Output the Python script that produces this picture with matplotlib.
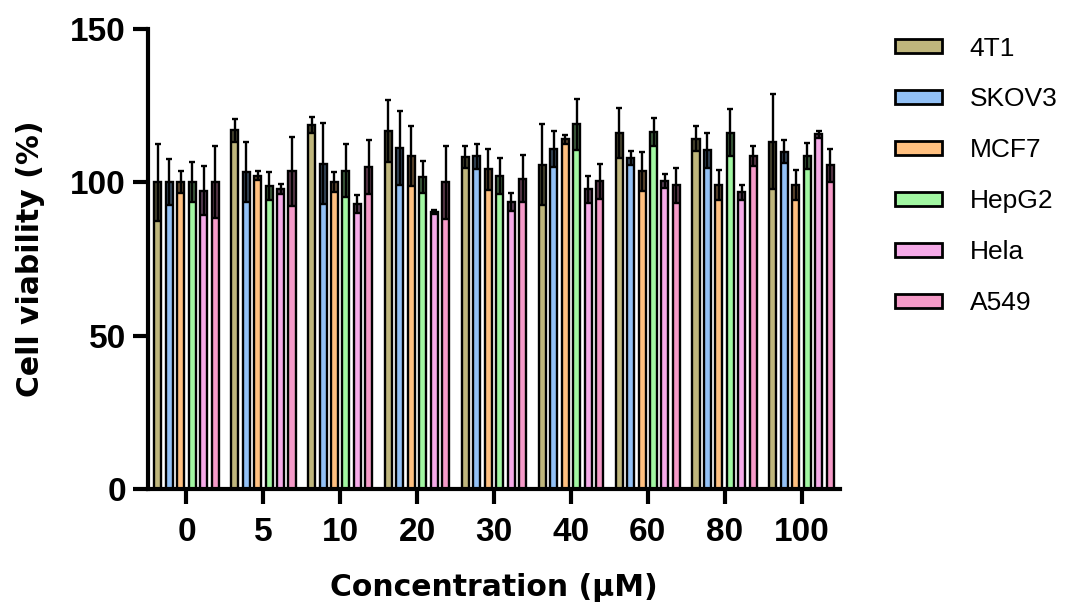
import numpy as np
import matplotlib
matplotlib.use("Agg")
import matplotlib.pyplot as plt

concentrations = ["0", "5", "10", "20", "30", "40", "60", "80", "100"]
cell_lines = ["4T1", "SKOV3", "MCF7", "HepG2", "Hela", "A549"]

mean_4T1 = [100.0, 117.0, 118.6, 116.7, 108.2, 105.8, 116.2, 114.2, 113.2]
err_4T1 = [12.5, 3.8, 2.6, 10.0, 3.6, 13.1, 8.2, 4.1, 15.5]
mean_SKOV3 = [100.0, 103.3, 106.0, 111.1, 108.5, 110.8, 107.9, 110.5, 110.0]
err_SKOV3 = [7.5, 9.8, 13.2, 12.1, 4.0, 5.8, 2.3, 5.7, 3.8]
mean_MCF7 = [100.0, 102.2, 100.1, 108.6, 104.2, 114.0, 103.6, 99.2, 99.2]
err_MCF7 = [3.6, 1.5, 3.2, 9.7, 6.6, 1.4, 6.3, 4.9, 4.8]
mean_HepG2 = [100.0, 98.8, 103.8, 101.8, 102.0, 118.9, 116.5, 116.2, 108.5]
err_HepG2 = [6.5, 4.5, 8.7, 5.3, 5.9, 8.2, 4.6, 7.6, 4.3]
mean_Hela = [97.3, 97.8, 93.0, 90.3, 93.6, 97.8, 100.5, 96.7, 115.7]
err_Hela = [8.0, 1.5, 2.9, 0.7, 2.8, 4.4, 2.3, 2.3, 1.2]
mean_A549 = [100.0, 103.6, 105.0, 100.0, 101.2, 100.3, 99.0, 108.6, 105.5]
err_A549 = [11.7, 11.2, 8.9, 11.9, 7.6, 5.7, 5.6, 3.2, 5.3]

means = [mean_4T1, mean_SKOV3, mean_MCF7, mean_HepG2, mean_Hela, mean_A549]
errs = [err_4T1, err_SKOV3, err_MCF7, err_HepG2, err_Hela, err_A549]
colors = ["#BFB67C", "#92C0F5", "#FFC080", "#A2F7A2", "#F5AAE8", "#F59AC8"]

plt.rcParams['font.family'] = ['Liberation Sans', 'DejaVu Sans']

fig = plt.figure(figsize=(10.67, 6.06), dpi=100)
ax = fig.add_axes([148/1067, 117/606, (840-148)/1067, (489-29)/606])

x = np.arange(len(concentrations))
step = 0.149
width = 0.092
for i, (name, m, e, c) in enumerate(zip(cell_lines, means, errs, colors)):
    xi = x + (i - 2.5) * step
    m = np.array(m); e = np.array(e)
    ax.bar(xi, m, width=width, color=c, edgecolor='black', linewidth=1.7, label=name, zorder=2)
    ax.bar(xi, e, width=width, bottom=m - e, color='black', alpha=0.6, linewidth=0, zorder=3)
    ax.errorbar(xi, m, yerr=e, fmt='none', ecolor='black', elinewidth=1.7,
                capsize=2.4, capthick=1.7, zorder=4)

ax.set_xlim(-0.5, 8.5)
ax.set_ylim(0, 150)
ax.set_yticks([0, 50, 100, 150])
ax.set_xticks(x)
ax.set_xticklabels(concentrations)
for s in ['top', 'right']:
    ax.spines[s].set_visible(False)
for s in ['left', 'bottom']:
    ax.spines[s].set_linewidth(3)
ax.tick_params(axis='both', width=3, length=11, labelsize=24)
ax.tick_params(axis='x', pad=9)
ax.tick_params(axis='y', pad=5)
for lab in ax.get_xticklabels() + ax.get_yticklabels():
    lab.set_fontweight('bold')
ax.set_xlabel("Concentration (μM)", fontsize=21.5, fontweight='bold', labelpad=18,
              family=['DejaVu Sans'])
ax.set_ylabel("Cell viability (%)", fontsize=21.5, fontweight='bold', labelpad=18,
              family=['DejaVu Sans'])

leg = ax.legend(loc='upper left', bbox_to_anchor=(884/1067, 1 - 26/606),
                bbox_transform=fig.transFigure, frameon=False, fontsize=19,
                handlelength=1.78, handleheight=0.45, labelspacing=1.02,
                handletextpad=1.06, borderaxespad=0)
for h in leg.legend_handles:
    h.set_linewidth(2)

fig.savefig("out.png", dpi=100)
